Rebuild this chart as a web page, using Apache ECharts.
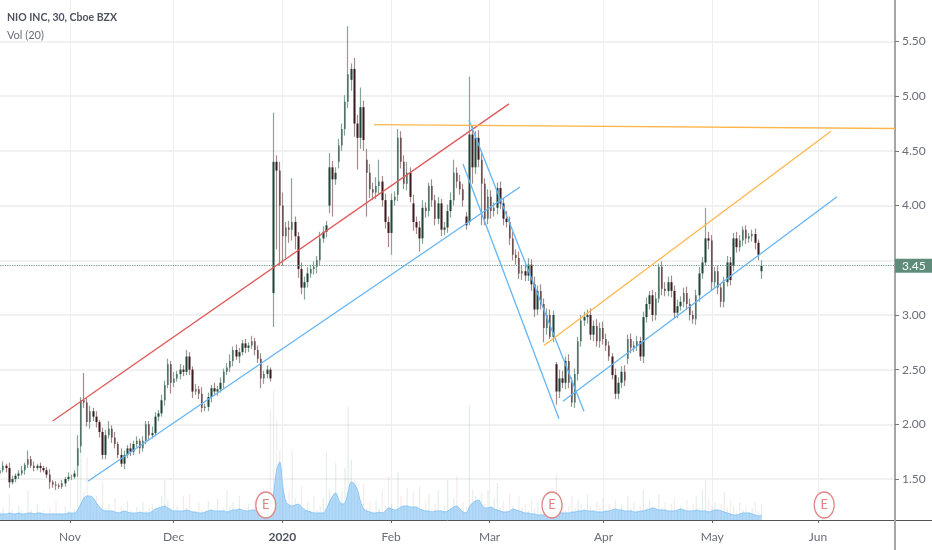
<!DOCTYPE html>
<html><head><meta charset="utf-8">
<style>html,body{margin:0;padding:0;background:#fff}#c{width:932px;height:550px}</style>
<script src="https://cdn.jsdelivr.net/npm/echarts@6/dist/echarts.min.js"></script>
</head><body><div id="c"></div>
<script>
// Sessions counted from 1 Nov 2019; one candle every 0.6 sessions.
const firstSession = -13.5, sessionStep = 0.6;
const monthSessions = [0,20,41,62,81,103,124,144.4];
const monthLabels = ["Nov","Dec","2020","Feb","Mar","Apr","May","Jun"];
const priceTicks = [1.5,2,2.5,3,3.5,4,4.5,5,5.5];
const priceLabels = [1.5,2,2.5,3,4,4.5,5,5.5];
const lastPrice = 3.45;
const earningsSessions = [37.8,93.05,145.6];

const closes = [
1.58,1.62,1.60,1.47,1.50,1.53,1.55,1.58,1.63,1.68,
1.62,1.60,1.62,1.60,1.58,1.54,1.47,1.45,1.44,1.43,
1.46,1.50,1.52,1.52,1.55,1.78,2.22,2.20,2.02,2.12,
2.07,2.02,1.93,1.72,1.90,1.96,1.88,1.82,1.72,1.64,
1.72,1.78,1.75,1.82,1.85,1.78,1.85,2.00,1.90,1.92,
2.07,2.10,2.22,2.36,2.55,2.38,2.42,2.46,2.50,2.48,
2.62,2.50,2.30,2.32,2.28,2.15,2.16,2.25,2.33,2.30,
2.32,2.38,2.48,2.52,2.58,2.68,2.62,2.66,2.74,2.70,
2.72,2.76,2.68,2.60,2.42,2.46,2.50,2.42,4.40,4.32,
4.00,3.72,3.80,3.78,3.85,3.72,3.42,3.25,3.30,3.38,
3.42,3.44,3.50,3.70,3.76,3.82,4.35,4.24,4.30,4.55,
4.70,4.95,5.20,5.25,4.75,4.62,4.90,4.60,4.30,4.15,
4.12,4.18,4.22,4.05,3.85,3.75,4.05,4.08,4.62,4.40,
4.20,4.30,4.08,3.85,3.80,3.70,3.98,3.95,4.18,4.05,
3.88,4.02,3.78,3.80,3.95,4.05,4.30,4.22,4.15,4.05,
3.82,4.65,4.35,4.62,4.42,4.20,3.88,4.08,3.95,3.98,
4.16,4.02,3.88,3.85,3.70,3.55,3.52,3.38,3.40,3.36,
3.46,3.28,3.05,3.22,3.10,2.88,3.00,2.80,3.00,2.30,
2.42,2.38,2.58,2.38,2.20,2.46,2.76,2.95,2.98,3.00,
2.82,2.90,2.76,2.88,2.78,2.72,2.62,2.45,2.28,2.38,
2.48,2.40,2.78,2.70,2.72,2.76,2.62,2.98,3.10,3.18,
3.00,3.15,3.44,3.24,3.22,3.30,3.22,3.02,3.08,3.12,
3.20,3.10,3.00,2.96,3.18,3.38,3.48,3.70,3.68,3.30,
3.40,3.25,3.12,3.30,3.48,3.32,3.70,3.62,3.68,3.78,
3.70,3.72,3.74,3.66,3.55,3.45];
// Opens equal the previous close except across these overnight gaps.
const openGaps = {25:1.62,26:1.80,88:3.20,106:4.00,109:4.40,113:5.15,118:4.42,128:4.10,133:4.02,150:3.90,151:3.85,179:2.55,202:2.60,236:3.45,245:3.40};
const upperWicks = [
.03,.04,.02,.05,.03,.02,.03,.04,.02,.08,
.03,.04,.02,.03,.02,.03,.05,.02,.03,.02,
.03,.02,.04,.02,.03,.12,.03,.25,.04,.05,
.03,.05,.02,.04,.05,.07,.03,.05,.02,.06,
.04,.03,.05,.03,.04,.02,.04,.03,.03,.06,
.04,.03,.05,.04,.05,.03,.06,.03,.05,.04,
.06,.04,.03,.05,.03,.06,.03,.04,.03,.05,
.03,.05,.03,.04,.06,.03,.05,.04,.03,.04,
.03,.05,.03,.04,.05,.03,.04,.02,.45,.06,
.08,.12,.05,.06,.40,.05,.04,.06,.05,.06,
.04,.05,.04,.06,.05,.04,.13,.06,.05,.06,
.05,.06,.44,.05,.10,.08,.18,.06,.10,.08,
.06,.08,.20,.05,.06,.05,.06,.05,.08,.06,
.06,.10,.05,.08,.05,.06,.07,.05,.03,.06,
.05,.06,.04,.05,.06,.07,.12,.05,.06,.05,
.04,.53,.08,.06,.07,.06,.05,.07,.06,.05,
.05,.06,.05,.07,.05,.06,.05,.06,.05,.06,
.06,.05,.07,.05,.06,.05,.06,.05,.04,.02,
.08,.07,.04,.06,.05,.05,.04,.05,.05,.05,
.06,.05,.06,.05,.06,.05,.04,.03,.06,.05,
.05,.06,.04,.05,.04,.05,.04,.05,.06,.04,
.05,.06,.03,.05,.06,.05,.06,.05,.06,.05,
.05,.06,.05,.04,.05,.06,.05,.28,.06,.05,
.04,.05,.04,.05,.06,.05,.05,.06,.05,.03,
.04,.03,.04,.05,.03,.05];
const lowerWicks = [
.03,.02,.04,.05,.02,.03,.03,.02,.04,.03,
.02,.03,.02,.04,.02,.03,.06,.03,.04,.02,
.02,.03,.02,.03,.02,.10,.06,.05,.04,.06,
.04,.05,.05,.04,.04,.03,.05,.04,.03,.03,
.05,.03,.04,.03,.03,.05,.03,.03,.05,.03,
.03,.04,.03,.05,.03,.10,.04,.03,.05,.04,
.03,.05,.06,.03,.05,.04,.03,.04,.05,.03,
.04,.03,.05,.03,.04,.05,.03,.06,.03,.05,
.04,.03,.05,.04,.09,.05,.04,.03,.31,.72,
.55,.27,.20,.12,.10,.12,.08,.06,.11,.05,
.04,.05,.06,.05,.04,.05,.07,.34,.05,.06,
.05,.06,.06,.10,.12,.29,.10,.10,.40,.08,
.07,.06,.08,.06,.06,.13,.20,.05,.06,.06,
.05,.06,.05,.08,.06,.12,.05,.06,.05,.06,
.06,.05,.06,.05,.05,.06,.05,.06,.05,.06,
.04,.03,.15,.06,.07,.38,.06,.05,.07,.05,
.06,.05,.06,.05,.06,.05,.06,.05,.06,.05,
.05,.06,.07,.05,.05,.13,.06,.02,.05,.12,
.06,.05,.06,.05,.04,.05,.06,.05,.05,.06,
.05,.06,.05,.06,.05,.05,.04,.04,.05,.05,
.05,.05,.05,.05,.04,.05,.04,.06,.05,.05,
.06,.05,.04,.06,.05,.05,.06,.05,.05,.04,
.05,.05,.05,.04,.05,.06,.05,.03,.08,.08,
.05,.06,.05,.05,.04,.05,.05,.05,.04,.05,
.05,.04,.05,.06,.05,.07];
// Volume in units of 100k shares.
const volumes = [
8,12,6,26,10,7,14,9,6,30,
11,8,16,7,10,6,12,8,18,7,
6,14,9,7,11,62,70,28,63,20,
9,24,7,38,12,16,8,22,9,14,
7,19,10,6,13,8,18,9,12,16,
8,10,24,40,20,12,8,14,9,24,
12,26,9,7,17,10,8,19,11,8,
21,9,12,30,14,18,10,24,8,13,
16,9,20,12,28,14,10,110,130,100,
70,38,20,30,70,22,14,34,12,18,
9,24,10,14,22,68,30,20,57,18,
28,52,113,60,40,26,14,36,12,18,
9,20,12,30,14,43,16,10,48,24,
14,32,10,28,12,34,9,18,26,12,
16,30,10,14,40,12,22,44,10,18,
14,115,30,24,20,28,16,30,14,22,
37,12,18,10,26,14,9,24,12,16,
9,20,12,18,9,14,8,16,22,45,
12,18,10,14,24,12,20,16,10,26,
14,10,18,12,22,9,16,12,20,10,
15,9,24,12,18,10,14,30,12,20,
14,10,26,12,18,9,16,22,10,14,
12,20,9,16,24,12,30,40,22,14,
18,10,16,28,12,20,14,9,18,10,
14,8,12,18,9,16];
const volumeMA = [
6,6,6,7,6,6,7,6,6,7,
7,6,7,7,6,6,6,6,6,6,
6,6,7,7,7,10,16,22,24,24,
22,17,13,10,9,9,9,8,7,8,
9,8,7,7,7,8,7,7,7,9,
11,12,13,14,12,10,9,9,9,9,
10,9,8,8,7,7,8,9,10,9,
9,9,9,8,9,10,10,11,10,9,
9,10,10,9,9,10,9,13,26,50,
58,32,18,15,14,15,16,13,10,9,
8,7,7,7,7,11,18,24,27,20,
16,17,28,38,36,30,18,11,9,8,
7,7,8,7,9,12,11,10,11,13,
14,14,13,13,13,11,10,9,9,8,
9,9,9,8,9,11,13,14,11,8,
7,13,17,19,20,15,12,12,13,11,
10,9,8,8,9,11,10,9,8,7,
7,6,6,5,5,5,5,6,6,7,
7,7,7,7,8,8,9,9,10,9,
9,9,8,8,8,9,9,10,11,10,
10,9,9,9,8,8,9,9,10,11,
12,11,10,10,10,9,9,9,10,11,
10,9,9,9,10,9,9,9,8,9,
10,10,9,8,7,6,5,5,6,7,
7,7,6,5,4,5];

// Drawn trend lines: [session, price] end points.
const redLine = [[-3.34,2.03],[84.75,4.93]];
const blueLineA = [[3.47,1.48],[86.87,4.17]];
const blueLineB = [[75.87,4.38],[94.4,2.05]];
const blueLineC = [[77.03,4.78],[99.23,2.12]];
const blueLineD = [[95.17,2.21],[148.07,4.08]];
const orangeFlat = [[58.69,4.74],[159.27,4.705]];
const orangeRise = [[91.5,2.72],[146.9,4.68]];

const xMin = -13.51, xMax = 159.27;
const sessions = closes.map((_, i) => +(firstSession + i * sessionStep).toFixed(2));
const opens = closes.map((c, i) => i === 0 ? 1.55 : (openGaps[i] !== undefined ? openGaps[i] : closes[i - 1]));
const wickRows = closes.map((c, i) => {
  const top = Math.max(opens[i], c), bot = Math.min(opens[i], c);
  return [sessions[i], opens[i], c, +(bot - lowerWicks[i]).toFixed(2), +(top + upperWicks[i]).toFixed(2)];
});
const bodyRows = closes.map((c, i) => [sessions[i], opens[i], c, Math.min(opens[i], c), Math.max(opens[i], c)]);
const volRows = volumes.map((v, i) => ({
  value: [sessions[i], v],
  itemStyle: {color: closes[i] >= opens[i] ? 'rgba(83,150,110,0.16)' : 'rgba(190,90,90,0.13)'}
}));

function trend(data, color) {
  return {type:'line', xAxisIndex:0, yAxisIndex:0, data, symbol:'none', silent:true, z:6,
    lineStyle:{color, width:1.3}, clip:false};
}
const chart = echarts.init(document.getElementById('c'), null, {renderer:'canvas'});
const labelFont = 'Lato, "Liberation Sans", sans-serif';
chart.setOption({
  animation:false, backgroundColor:'#fff',
  title:{text:'NIO INC, 30, Cboe BZX', subtext:'Vol (20)', left:7, top:12, itemGap:7, padding:0,
    textStyle:{fontFamily:labelFont, fontSize:10.5, fontWeight:700, color:'#50535e'},
    subtextStyle:{fontFamily:labelFont, fontSize:11, color:'#6a6d78'}},
  grid:[{left:0, right:37, top:0, bottom:30},{left:0, right:37, top:380, bottom:30}],
  xAxis:[{type:'value', gridIndex:0, min:xMin, max:xMax,
      axisLine:{show:true, onZero:false, lineStyle:{color:'#555', width:1}},
      axisTick:{show:true, length:3, customValues:monthSessions, lineStyle:{color:'#666'}},
      axisLabel:{customValues:monthSessions, margin:11, fontFamily:labelFont, fontSize:12, color:'#6a6d78',
        formatter:v => { const l = monthLabels[monthSessions.indexOf(v)]; return l === '2020' ? '{b|2020}' : l; },
        rich:{b:{fontFamily:labelFont, fontSize:12, fontWeight:700, color:'#50535e'}}},
      splitLine:{show:true, lineStyle:{color:'#efefef', width:1}}},
    {type:'value', gridIndex:1, min:xMin, max:xMax, show:false}],
  yAxis:[{type:'value', gridIndex:0, position:'right', min:1.125, max:5.88, scale:true,
      axisLine:{show:true, onZero:false, lineStyle:{color:'#a6a6a6', width:2}},
      axisTick:{show:true, length:4, customValues:priceTicks, lineStyle:{color:'#777'}},
      axisLabel:{customValues:priceLabels, margin:7, fontFamily:labelFont, fontSize:12, color:'#6a6d78',
        formatter:v => v.toFixed(2)},
      splitLine:{show:true, lineStyle:{color:'#ececec', width:1.5}}},
    {type:'value', gridIndex:1, min:0, max:140, show:false}],
  graphic:[
    {type:'line', shape:{x1:895,y1:520.5,x2:932,y2:520.5}, style:{stroke:'#555',lineWidth:1}, z:10},
    {type:'line', shape:{x1:895,y1:520,x2:895,y2:550}, style:{stroke:'#a6a6a6',lineWidth:2}, z:10}
  ],
  series:[
    {type:'bar', name:'Volume', xAxisIndex:1, yAxisIndex:1, data:volRows, barWidth:1.2, silent:true, z:1},
    {type:'line', name:'Volume MA', xAxisIndex:1, yAxisIndex:1, symbol:'none', smooth:0.3, silent:true, z:2,
      data:volumeMA.map((v,i)=>[sessions[i],v]),
      lineStyle:{color:'#8ac6f5', width:1},
      areaStyle:{color:'rgba(100,181,246,0.72)', origin:'start'}},
    {type:'scatter', name:'Earnings', xAxisIndex:1, yAxisIndex:1, silent:true, z:7,
      data:earningsSessions.map(s=>[s,15]),
      symbol:'path://M10 0A10 10 0 1 1 -10 0A10 10 0 1 1 10 0Z', symbolSize:[20,26],
      itemStyle:{color:'#fff', borderColor:'#e08585', borderWidth:1.4, opacity:1},
      label:{show:true, position:'inside', formatter:'E', color:'#e08585', fontFamily:labelFont, fontSize:13}},
    {type:'candlestick', name:'Wicks', xAxisIndex:0, yAxisIndex:0, data:wickRows, barWidth:1, silent:true, z:3,
      itemStyle:{color:'#86a596', color0:'#a58a8a', borderColor:'#86a596', borderColor0:'#a58a8a', borderWidth:1.2}},
    {type:'candlestick', name:'NIO', xAxisIndex:0, yAxisIndex:0, data:bodyRows, barWidth:2, silent:true, z:4,
      itemStyle:{color:'#1f4638', color0:'#3a1a1e', borderColor:'#1f4638', borderColor0:'#3a1a1e', borderWidth:0},
      markLine:{silent:true, symbol:'none', animation:false, precision:2,
        data:[{yAxis:lastPrice}],
        lineStyle:{color:'#6b9a87', type:'dotted', width:1.2},
        label:{show:true, position:'end', distance:0, formatter:p=>p.value.toFixed(2), color:'#fff', backgroundColor:'#5f8c7a',
          fontFamily:labelFont, fontSize:12, padding:[1,9,1,7]}}},
    trend(redLine,'#e05a5a'), trend(blueLineA,'#64b5f6'), trend(blueLineB,'#64b5f6'),
    trend(blueLineC,'#64b5f6'), trend(blueLineD,'#64b5f6'), trend(orangeFlat,'#ffb74d'), trend(orangeRise,'#ffb74d')
  ]
});
</script></body></html>
